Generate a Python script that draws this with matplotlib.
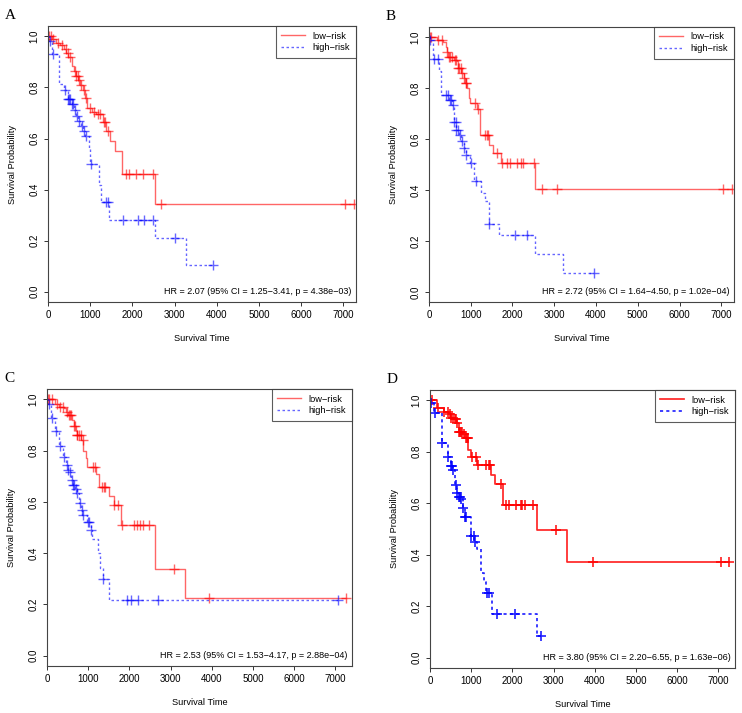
import numpy as np
import matplotlib
matplotlib.use("Agg")
import matplotlib.pyplot as plt

plt.rcParams['font.family'] = ['Liberation Sans', 'DejaVu Sans']

# ---- data ----
# A
a_low_t = [90, 180, 280, 380, 430, 480, 560, 610, 660, 710, 760, 820, 880, 930, 1050, 1130, 1300, 1380, 1480, 1590, 1760, 2540]
a_low_s = [0.99, 0.975, 0.965, 0.95, 0.935, 0.92, 0.885, 0.865, 0.845, 0.83, 0.81, 0.79, 0.76, 0.72, 0.705, 0.695, 0.665, 0.63, 0.59, 0.55, 0.46, 0.345]
a_low_c = [20, 60, 130, 230, 330, 420, 470, 520, 640, 670, 700, 740, 790, 850, 900, 1000, 1100, 1180, 1230, 1330, 1360, 1420, 1840, 1920, 2080, 2260, 2480, 2680, 7050, 7250]
a_high_t = [20, 100, 260, 380, 470, 560, 610, 660, 720, 780, 830, 880, 960, 1000, 1200, 1260, 1450, 2540, 3280]
a_high_s = [0.98, 0.93, 0.815, 0.79, 0.755, 0.735, 0.71, 0.69, 0.67, 0.65, 0.63, 0.61, 0.56, 0.50, 0.42, 0.353, 0.281, 0.212, 0.105]
a_high_c = [50, 130, 400, 480, 500, 530, 560, 600, 640, 680, 740, 800, 850, 900, 1020, 1380, 1420, 1780, 2140, 2270, 2500, 3000, 3900]
a_hr = "HR = 2.07 (95% CI = 1.25\u22123.41, p = 4.38e\u221203)"

# B
b_low_t = [200, 330, 400, 430, 460, 600, 680, 700, 780, 830, 870, 920, 950, 990, 1150, 1230, 1430, 1530, 1730, 2540]
b_low_s = [0.99, 0.98, 0.96, 0.94, 0.92, 0.91, 0.905, 0.878, 0.86, 0.84, 0.82, 0.80, 0.76, 0.741, 0.717, 0.614, 0.575, 0.545, 0.506, 0.404]
b_low_c = [20, 60, 220, 320, 430, 470, 500, 560, 620, 660, 700, 730, 760, 800, 840, 880, 900, 1100, 1180, 1350, 1380, 1420, 1640, 1750, 1860, 1930, 2100, 2200, 2250, 2520, 2700, 3070, 7050, 7250]
b_high_t = [20, 100, 250, 300, 480, 560, 600, 650, 720, 780, 830, 900, 980, 1070, 1240, 1345, 1432, 1690, 2540, 3210]
b_high_s = [0.99, 0.914, 0.865, 0.774, 0.752, 0.735, 0.667, 0.635, 0.615, 0.59, 0.565, 0.535, 0.505, 0.434, 0.388, 0.356, 0.267, 0.222, 0.148, 0.074]
b_high_c = [30, 130, 230, 400, 450, 510, 540, 570, 600, 640, 660, 700, 740, 800, 850, 900, 1000, 1120, 1440, 2070, 2360, 3950]
b_hr = "HR = 2.72 (95% CI = 1.64\u22124.50, p = 1.02e\u221204)"

# C
c_low_t = [200, 300, 420, 450, 500, 600, 650, 700, 720, 830, 880, 950, 980, 1180, 1260, 1500, 1620, 1790, 2620, 3360]
c_low_s = [0.981, 0.97, 0.965, 0.95, 0.939, 0.92, 0.894, 0.875, 0.86, 0.84, 0.80, 0.77, 0.735, 0.709, 0.657, 0.621, 0.586, 0.51, 0.338, 0.226]
c_low_c = [20, 60, 130, 250, 320, 400, 480, 540, 560, 580, 650, 680, 720, 740, 770, 820, 870, 1120, 1160, 1330, 1380, 1420, 1620, 1720, 1830, 2100, 2190, 2250, 2330, 2480, 3080, 3930, 7250]
c_high_t = [20, 100, 200, 280, 400, 450, 500, 560, 590, 620, 680, 720, 780, 820, 860, 960, 1070, 1100, 1240, 1280, 1350, 1500]
c_high_s = [0.98, 0.926, 0.877, 0.816, 0.775, 0.745, 0.725, 0.715, 0.685, 0.665, 0.65, 0.635, 0.595, 0.57, 0.55, 0.521, 0.49, 0.455, 0.40, 0.342, 0.301, 0.216]
c_high_c = [40, 130, 220, 310, 420, 480, 520, 570, 600, 640, 660, 700, 740, 800, 850, 880, 1000, 1020, 1080, 1370, 1940, 2050, 2220, 2700, 7050]
c_hr = "HR = 2.53 (95% CI = 1.53\u22124.17, p = 2.88e\u221204)"

# D
d_low_t = [180, 330, 450, 500, 580, 650, 700, 800, 860, 930, 990, 1150, 1480, 1580, 1780, 2590, 3320]
d_low_s = [0.97, 0.955, 0.945, 0.93, 0.928, 0.91, 0.876, 0.87, 0.853, 0.807, 0.779, 0.75, 0.711, 0.675, 0.595, 0.497, 0.37]
d_low_c = [0, 60, 200, 330, 430, 480, 520, 570, 600, 630, 660, 700, 730, 760, 780, 820, 870, 900, 920, 1030, 1120, 1160, 1350, 1420, 1460, 1720, 1850, 1920, 2080, 2200, 2230, 2300, 2500, 3060, 3950, 7050, 7250]
d_high_t = [10, 100, 300, 430, 500, 560, 600, 650, 700, 750, 800, 850, 1000, 1080, 1130, 1240, 1300, 1370, 1500, 2590]
d_high_s = [0.99, 0.95, 0.834, 0.781, 0.746, 0.73, 0.669, 0.64, 0.625, 0.615, 0.58, 0.545, 0.471, 0.45, 0.423, 0.33, 0.294, 0.252, 0.169, 0.083]
d_high_c = [30, 130, 300, 430, 500, 530, 560, 620, 660, 700, 720, 760, 800, 850, 880, 1000, 1060, 1100, 1380, 1420, 1620, 2060, 2700]
d_hr = "HR = 3.80 (95% CI = 2.20\u22126.55, p = 1.63e\u221206)"

panels = [
    ("A", [0.0647, 0.5764, 0.415, 0.387], 7300, a_low_t, a_low_s, a_low_c, a_high_t, a_high_s, a_high_c, a_hr, 1.0),
    ("B", [0.578, 0.5764, 0.411, 0.386], 7300, b_low_t, b_low_s, b_low_c, b_high_t, b_high_s, b_high_c, b_hr, 1.0),
    ("C", [0.0633, 0.0659, 0.411, 0.3885], 7400, c_low_t, c_low_s, c_low_c, c_high_t, c_high_s, c_high_c, c_hr, 1.0),
    ("D", [0.5795, 0.0631, 0.411, 0.39], 7400, d_low_t, d_low_s, d_low_c, d_high_t, d_high_s, d_high_c, d_hr, 1.25),
]


def km(ax, ev_t, ev_s, cens, color, ls, lw, alpha):
    t = np.concatenate([[0], ev_t])
    s = np.concatenate([[1.0], ev_s])
    tend = max(max(cens), t[-1])
    tt = np.append(t, tend)
    ss = np.append(s, s[-1])
    ax.step(tt, ss, where='post', color=color, ls=ls, lw=lw, alpha=alpha)
    idx = np.searchsorted(t, cens, side='right') - 1
    ax.plot(cens, s[idx], ls='none', marker='+', ms=6.5, mew=lw, color=color, alpha=alpha)


fig = plt.figure(figsize=(7.42, 7.13), dpi=100)

for letter, pos, xmax, lt, ls_, lc, ht, hs, hc, hr, lw in panels:
    ax = fig.add_axes(pos)
    alpha = 0.6 if lw < 1.2 else 0.85
    km(ax, lt, ls_, lc, 'red', '-', lw, alpha)
    km(ax, ht, hs, hc, 'blue', (0, (1.8, 1.8)), lw, alpha)
    ax.set_xlim(0, xmax)
    ax.set_ylim(-0.04, 1.04)
    ax.set_xticks(np.arange(0, 7001, 1000))
    ax.set_yticks(np.arange(0, 1.01, 0.2))
    ax.set_yticklabels(["%.1f" % v for v in np.arange(0, 1.01, 0.2)], rotation=90, va='center')
    ax.tick_params(labelsize=7, length=3, width=0.7, pad=3, colors='#333333', labelcolor='black')
    for sp in ax.spines.values():
        sp.set_linewidth(0.8)
        sp.set_color('#444444')
    ax.set_xlabel("Survival Time", fontsize=6.7, labelpad=10)
    ax.set_ylabel("Survival Probability", fontsize=6.7, labelpad=9)
    h1, = ax.plot([], [], color='red', lw=lw, alpha=alpha)
    h2, = ax.plot([], [], color='blue', lw=lw, ls=(0, (1.8, 1.8)), alpha=alpha)
    leg = ax.legend([h1, h2], ["low\u2212risk", "high\u2212risk"], loc='upper right', fontsize=6.7,
                    frameon=True, fancybox=False, borderaxespad=0, handlelength=2.6,
                    borderpad=0.6, labelspacing=0.3)
    leg.get_frame().set_edgecolor('#333333')
    leg.get_frame().set_linewidth(0.8)
    ax.text(xmax * 0.985, 0.0, hr, fontsize=6.5, ha='right', va='center')
    fig.text(pos[0] - 0.058, pos[1] + pos[3] + 0.015, letter, fontsize=11,
             family=['Liberation Serif', 'DejaVu Serif'], va='center', ha='left')

fig.savefig("out.png", dpi=100)
